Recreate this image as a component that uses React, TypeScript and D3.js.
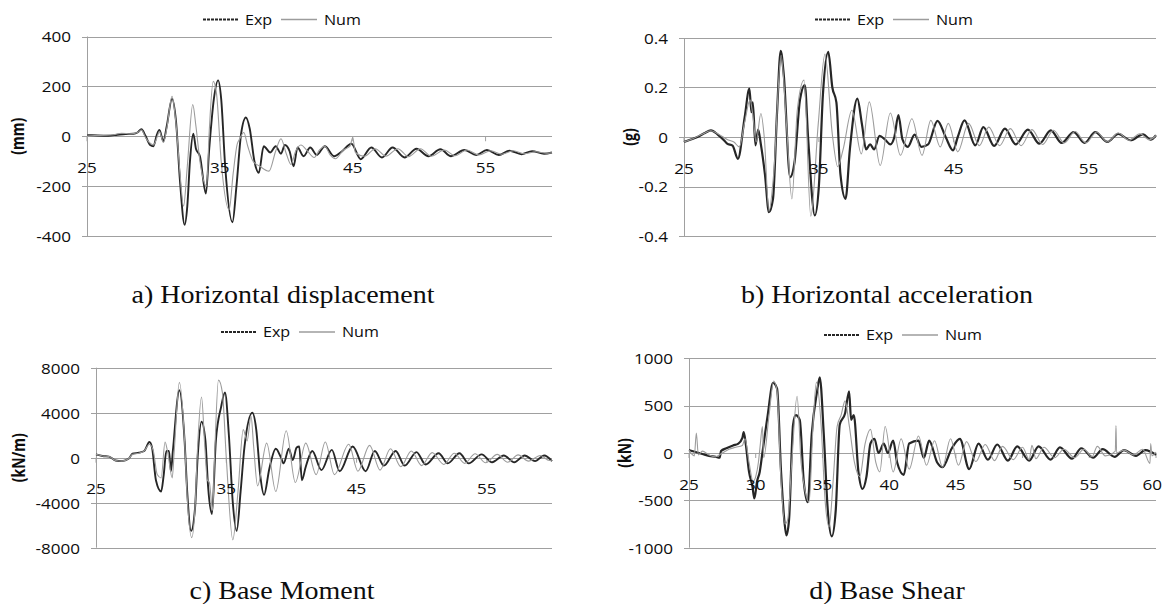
import React from "react";
import * as d3 from "d3";

type P = [number, number];

// ---------- data (time [s], value) ----------
const dispExp: P[] = [[25,5],[25.8,3],[26.6,2],[27.3,6],[27.9,9],[28.5,10],[28.8,15],[29.1,28],[29.4,2],[29.75,-35],[30.0,-40],[30.25,5],[30.45,25],[30.75,-20],[31.0,40],[31.4,150],[31.7,60],[32.0,-180],[32.35,-355],[32.55,-280],[32.75,-100],[33.0,10],[33.2,-50],[33.5,-80],[33.95,-230],[34.2,-50],[34.55,150],[34.87,224],[35.1,150],[35.4,-120],[35.95,-345],[36.25,-200],[36.6,10],[36.96,75],[37.25,30],[37.6,-100],[37.93,-147],[38.3,-40],[38.8,-65],[39.2,-40],[39.6,-70],[39.9,-35],[40.25,-60],[40.55,-120],[40.85,-45],[41.3,-80],[41.8,-45],[42.3,-75],[42.9,-40],[43.6,-80],[44.2,-60],[44.9,-30],[45.6,-92],[46.4,-45],[47.2,-85],[48.0,-45],[48.9,-85],[49.8,-50],[50.7,-80],[51.6,-52],[52.4,-80],[53.4,-55],[54.3,-75],[55.1,-55],[56.0,-75],[56.8,-58],[57.7,-72],[58.5,-60],[59.4,-70],[60,-65]];
const dispNum: P[] = [[25,5],[26,3],[27,6],[27.6,12],[28.3,10],[28.8,15],[29.1,25],[29.4,-5],[29.8,-30],[30.0,-35],[30.3,0],[30.45,20],[30.75,-25],[31.0,30],[31.4,160],[31.7,50],[32.0,-150],[32.27,-280],[32.55,-120],[32.96,127],[33.2,40],[33.5,-100],[34.0,-200],[34.2,20],[34.5,220],[34.75,170],[35.1,-100],[35.7,-295],[36.0,-150],[36.3,-33],[36.5,-10],[36.8,15],[37.1,-40],[37.5,-100],[38.0,-120],[38.7,-140],[39.2,-60],[39.6,-10],[40.0,-70],[40.35,-113],[40.7,-60],[41.1,-35],[41.6,-60],[42.1,-85],[42.5,-55],[42.9,-40],[43.3,-75],[43.7,-90],[44.3,-55],[44.8,-40],[45.0,-5],[45.2,-65],[45.9,-80],[46.7,-50],[47.5,-80],[48.4,-50],[49.2,-82],[50.1,-50],[50.9,-80],[51.9,-55],[52.7,-78],[53.6,-55],[54.5,-75],[55.4,-58],[56.2,-72],[57.1,-58],[57.9,-70],[58.8,-62],[59.6,-68],[60,-66]];

const accExp: P[] = [[25,-0.02],[25.5,-0.01],[26,0.0],[26.5,0.015],[27.0,0.027],[27.5,0.01],[28.0,-0.015],[28.2,-0.027],[28.6,-0.035],[29.0,-0.088],[29.5,0.08],[29.85,0.196],[30.0,0.1],[30.1,0.14],[30.3,-0.034],[30.5,0.03],[30.7,-0.03],[31.0,-0.15],[31.3,-0.304],[31.6,-0.25],[31.9,0.1],[32.17,0.348],[32.4,0.25],[32.87,-0.162],[33.2,-0.1],[33.6,0.15],[33.96,0.21],[34.2,0.0],[34.7,-0.317],[35.0,-0.2],[35.3,0.17],[35.7,0.344],[36.0,0.2],[36.3,0.14],[36.6,-0.15],[36.98,-0.25],[37.3,-0.05],[37.85,0.155],[38.2,0.05],[38.5,-0.05],[38.8,-0.03],[39.1,-0.05],[39.5,0.005],[39.9,-0.01],[40.3,-0.03],[40.6,0.0],[40.9,0.088],[41.2,-0.01],[41.6,-0.04],[42.1,0.01],[42.6,-0.04],[43.1,-0.03],[43.8,0.065],[44.4,0.0],[44.95,-0.054],[45.3,0.0],[45.8,0.067],[46.6,-0.034],[47.2,0.04],[48.0,-0.036],[48.8,0.034],[49.6,-0.03],[50.5,0.03],[51.35,-0.027],[52.2,0.027],[53.0,-0.024],[53.9,0.02],[54.7,-0.024],[55.5,0.02],[56.4,-0.02],[57.2,0.013],[58.1,-0.013],[59.05,0.011],[59.6,-0.011],[60,0.007]];
const accNum: P[] = [[25,-0.02],[25.6,-0.008],[26.3,0.01],[27.0,0.025],[27.6,0.01],[28.2,-0.01],[28.7,-0.02],[29.1,-0.04],[29.5,0.06],[29.9,0.15],[30.1,0.09],[30.35,-0.02],[30.7,0.095],[30.95,0.0],[31.3,-0.3],[31.65,-0.15],[32.2,0.33],[32.6,0.05],[33.0,-0.25],[33.4,0.108],[33.9,0.23],[34.4,-0.32],[34.95,0.05],[35.45,0.335],[36.0,0.01],[36.4,-0.12],[36.8,-0.05],[37.45,0.108],[38.15,-0.068],[38.74,0.142],[39.55,-0.115],[40.3,0.097],[41.05,-0.074],[41.9,0.074],[42.65,-0.074],[43.3,0.067],[44.0,-0.04],[44.6,0.055],[45.3,-0.06],[46.1,0.055],[46.9,-0.035],[47.6,0.04],[48.4,-0.035],[49.2,0.034],[50.0,-0.035],[50.8,0.03],[51.6,-0.03],[52.4,0.027],[53.2,-0.024],[54.0,0.022],[54.8,-0.024],[55.6,0.02],[56.4,-0.02],[57.2,0.016],[58.0,-0.013],[58.8,0.013],[59.5,-0.011],[60,0.006]];

const momExp: P[] = [[25,300],[25.5,150],[26.0,100],[26.5,-250],[27.0,-300],[27.5,-100],[27.8,350],[28.3,450],[28.7,600],[29.1,1400],[29.3,900],[29.6,-2000],[30.0,-3000],[30.2,-1500],[30.4,600],[30.6,600],[30.75,-1200],[30.9,600],[31.4,6000],[31.8,1500],[32.0,-3000],[32.3,-6500],[32.6,-4500],[32.8,0],[33.1,3200],[33.4,1500],[33.6,-2500],[33.9,-5000],[34.2,1500],[34.6,4500],[34.9,5800],[35.2,2000],[35.5,-4000],[35.8,-6500],[36.1,-3000],[36.4,1000],[37.0,4000],[37.3,2500],[37.6,-1500],[37.9,-3300],[38.3,-1000],[38.8,800],[39.2,0],[39.4,-500],[39.8,800],[40.1,-200],[40.4,900],[40.6,1000],[40.8,-2000],[41.1,-800],[41.6,600],[42.3,-1100],[43.1,700],[43.7,-1200],[44.7,1000],[45.7,-1200],[46.4,600],[47.1,-700],[48.0,600],[48.7,-700],[49.6,500],[50.3,-600],[51.3,400],[52.0,-500],[52.9,400],[53.6,-500],[54.6,300],[55.4,-400],[56.3,200],[57.1,-400],[57.9,200],[58.7,-300],[59.4,200],[60,-300]];
const momNum: P[] = [[25,300],[25.5,150],[26.0,100],[26.5,-250],[27.0,-300],[27.5,-100],[27.8,300],[28.3,400],[28.7,600],[29.1,1200],[29.4,600],[29.7,-1500],[30.0,-1800],[30.3,1400],[30.5,500],[30.85,-1800],[31.0,500],[31.4,6700],[31.8,1500],[32.0,-3500],[32.35,-7100],[32.6,-4500],[32.8,1000],[33.1,5400],[33.35,1000],[33.55,-2000],[33.7,-2200],[33.95,-4700],[34.1,0],[34.4,6900],[34.7,5800],[35.0,0],[35.5,-7300],[35.9,-3000],[36.3,2500],[36.6,1500],[36.9,3700],[37.1,1000],[37.4,-2500],[38.1,1300],[38.8,-3000],[39.6,2400],[40.3,-2200],[41.1,1300],[41.9,-1500],[42.6,1400],[43.3,-1500],[44.4,1200],[45.1,-1200],[46.0,1100],[46.8,-1100],[47.6,800],[48.4,-800],[49.2,600],[50.0,-700],[50.8,450],[51.7,-600],[52.5,400],[53.3,-500],[54.1,350],[54.9,-450],[55.8,300],[56.6,-400],[57.4,250],[58.2,-300],[59.1,200],[59.8,-250],[60,-200]];

const shearExp: P[] = [[25,30],[25.5,10],[26.0,-10],[26.5,-30],[27.0,-40],[27.3,-50],[27.4,20],[27.8,50],[28.3,80],[28.7,100],[29.0,160],[29.1,220],[29.25,100],[29.5,-200],[29.75,-350],[29.9,-480],[30.1,-300],[30.3,-200],[30.5,0],[30.9,400],[31.3,740],[31.6,680],[31.9,-200],[32.15,-720],[32.3,-870],[32.5,-700],[32.8,300],[33.0,400],[33.3,350],[33.6,-300],[33.9,-520],[34.2,200],[34.6,650],[34.8,800],[35.1,200],[35.4,-600],[35.7,-880],[36.0,-600],[36.3,300],[36.7,420],[37.0,650],[37.15,350],[37.35,400],[37.7,-200],[38.0,-380],[38.3,-250],[38.6,100],[38.9,150],[39.2,0],[39.6,100],[39.9,0],[40.3,130],[40.6,-100],[41.1,-230],[41.5,100],[42.2,130],[42.6,-50],[43.0,130],[43.6,-100],[44.0,-150],[44.7,50],[45.3,150],[46.0,-170],[46.7,100],[47.4,-70],[48.1,90],[48.9,-80],[49.6,70],[50.5,-80],[51.2,70],[52.1,-70],[52.8,60],[53.7,-60],[54.4,50],[55.3,-50],[56.0,40],[56.9,-40],[57.6,30],[58.5,-30],[59.2,30],[60,-20]];
const shearNum: P[] = [[25,30],[25.4,-30],[25.55,210],[25.7,-20],[26.0,20],[26.5,-20],[27.0,-40],[27.5,0],[28.0,40],[28.5,60],[29.0,80],[29.2,150],[29.5,-100],[29.8,-300],[30.0,-250],[30.2,-100],[30.35,100],[30.5,280],[30.6,-50],[31.0,400],[31.35,760],[31.6,650],[31.9,-300],[32.2,-750],[32.4,-700],[32.7,-100],[33.1,600],[33.4,-100],[33.7,-400],[34.0,-520],[34.3,300],[34.55,750],[34.9,300],[35.2,-500],[35.5,-780],[35.8,-300],[36.1,280],[36.4,400],[36.7,550],[37.0,300],[37.4,-100],[37.8,-250],[38.2,100],[38.6,250],[39.0,-100],[39.3,-200],[39.7,280],[40.3,-200],[40.9,150],[41.5,-170],[42.2,180],[42.8,-130],[43.4,130],[44.0,-150],[44.6,150],[45.2,-130],[45.8,120],[46.5,-90],[47.2,90],[47.9,-80],[48.5,70],[49.3,-70],[50.0,60],[50.5,-70],[50.7,80],[51.0,-60],[51.6,60],[52.4,-50],[53.1,40],[53.9,-50],[54.6,40],[55.2,-40],[55.6,70],[56.2,-30],[56.95,20],[57.0,290],[57.05,0],[57.6,30],[58.3,-20],[59.0,40],[59.55,-110],[59.6,100],[59.7,-30],[60,10]];

const xTicksWide = [25, 35, 45, 55];
const xTicksFine = [25, 30, 35, 40, 45, 50, 55, 60];
const dispTicks = [-400, -200, 0, 200, 400];
const accTicks = [-0.4, -0.2, 0, 0.2, 0.4];
const momTicks = [-8000, -4000, 0, 4000, 8000];
const shearTicks = [-1000, -500, 0, 500, 1000];
const seriesNames = ["Exp", "Num"];
const yLabels = ["(mm)", "(g)", "(kN/m)", "(kN)"];
const captions = ["a) Horizontal displacement", "b) Horizontal acceleration", "c) Base Moment", "d) Base Shear"];
const timeDomain: [number, number] = [25, 60];

// ---------- layout ----------
const panels = [
  { exp: dispExp, num: dispNum, yTicks: dispTicks, xTicks: xTicksWide, yLabel: yLabels[0], caption: captions[0],
    left: 87, right: 552, top: 36.5, bottom: 236, yLabelX: 17, legY: 19.5, legX: 203, capX: 283, capY: 303, expW: 1.9 },
  { exp: accExp, num: accNum, yTicks: accTicks, xTicks: xTicksWide, yLabel: yLabels[1], caption: captions[1],
    left: 684, right: 1156, top: 38, bottom: 236, yLabelX: 629, legY: 19.5, legX: 815, capX: 887, capY: 303, expW: 2.2 },
  { exp: momExp, num: momNum, yTicks: momTicks, xTicks: xTicksWide, yLabel: yLabels[2], caption: captions[2],
    left: 96, right: 552, top: 367.7, bottom: 547.7, yLabelX: 18, legY: 332, legX: 221, capX: 282, capY: 599, expW: 1.9 },
  { exp: shearExp, num: shearNum, yTicks: shearTicks, xTicks: xTicksFine, yLabel: yLabels[3], caption: captions[3],
    left: 689, right: 1156, top: 358.3, bottom: 547.7, yLabelX: 624, legY: 335, legX: 824, capX: 887, capY: 599, expW: 2.2 },
];

const SX = 1.22;
const SANS = "'Open Sans', 'DejaVu Sans', sans-serif";
const SERIF = "'Liberation Serif', 'Times New Roman', serif";
const GRID = "#a0a0a0";
const EXPC = "#262626";
const NUMC = "#9c9c9c";
const TXT = "#0d0d0d";

function Panel({ cfg }: { cfg: any }) {
  const x = d3.scaleLinear().domain(timeDomain).range([cfg.left, cfg.right]);
  const yt = cfg.yTicks;
  const y = d3.scaleLinear().domain([yt[0], yt[yt.length - 1]]).range([cfg.bottom, cfg.top]);
  const line = d3.line<P>().x((d) => x(d[0])).y((d) => y(d[1])).curve(d3.curveMonotoneX);
  const y0 = y(0);
  const midY = (cfg.top + cfg.bottom) / 2;
  return (
    <g>
      {yt.map((t: number) => (
        <line key={"g" + t} x1={cfg.left - 5} x2={cfg.right} y1={Math.round(y(t)) + 0.5} y2={Math.round(y(t)) + 0.5}
          stroke={GRID} strokeWidth={1} />
      ))}
      <line x1={Math.round(cfg.left) + 0.5} x2={Math.round(cfg.left) + 0.5} y1={cfg.top} y2={cfg.bottom} stroke={GRID} strokeWidth={1} />
      {cfg.xTicks.map((t: number) => (
        <line key={"xt" + t} x1={x(t)} x2={x(t)} y1={y0} y2={y0 + 5} stroke={GRID} strokeWidth={1} />
      ))}
      <path d={line(cfg.exp) || ""} fill="none" stroke={EXPC} strokeWidth={cfg.expW} strokeLinejoin="round" />
      <path d={line(cfg.num) || ""} fill="none" stroke={NUMC} strokeWidth={1.1} strokeLinejoin="round" />
      {yt.map((t: number) => (
        <text key={"yl" + t} transform={`translate(${cfg.left - 16},${y(t) + 5.8}) scale(${SX},1)`} textAnchor="end"
          fontFamily={SANS} fontSize={14} fill={TXT}>{String(t)}</text>
      ))}
      {cfg.xTicks.map((t: number, i: number) => {
        const last = x(t) >= cfg.right - 1;
        return (
          <text key={"xl" + t} transform={`translate(${last ? 1162 : x(t)},${y0 + 36.5}) scale(${SX},1)`}
            textAnchor={last ? "end" : "middle"} fontFamily={SANS} fontSize={14} fill={TXT}>{String(t)}</text>
        );
      })}
      <text transform={`translate(${cfg.yLabelX},${midY}) rotate(-90) scale(1,${SX})`} textAnchor="middle"
        dominantBaseline="central" fontFamily={SANS} fontWeight="bold" fontSize={14} fill={TXT}>{cfg.yLabel}</text>
      {/* legend */}
      <line x1={cfg.legX} x2={cfg.legX + 36} y1={cfg.legY} y2={cfg.legY} stroke={EXPC} strokeWidth={2} strokeDasharray="3,1" />
      <text transform={`translate(${cfg.legX + 42},${cfg.legY + 5.2}) scale(1.15,1)`} fontFamily={SANS} fontSize={14} fill={TXT}>{seriesNames[0]}</text>
      <line x1={cfg.legX + 78} x2={cfg.legX + 114} y1={cfg.legY} y2={cfg.legY} stroke={NUMC} strokeWidth={1.3} />
      <text transform={`translate(${cfg.legX + 121},${cfg.legY + 5.2}) scale(1.15,1)`} fontFamily={SANS} fontSize={14} fill={TXT}>{seriesNames[1]}</text>
      {/* caption */}
      <text transform={`translate(${cfg.capX},${cfg.capY}) scale(1.12,1)`} textAnchor="middle" fontFamily={SERIF}
        fontSize={25} fill={TXT}>{cfg.caption}</text>
    </g>
  );
}

export default function App() {
  return (
    <svg width={1163} height={604} style={{ position: "absolute", left: 0, top: 0, background: "#fff" }}>
      <rect width={1163} height={604} fill="#fff" />
      {panels.map((p, i) => <Panel key={i} cfg={p} />)}
    </svg>
  );
}
